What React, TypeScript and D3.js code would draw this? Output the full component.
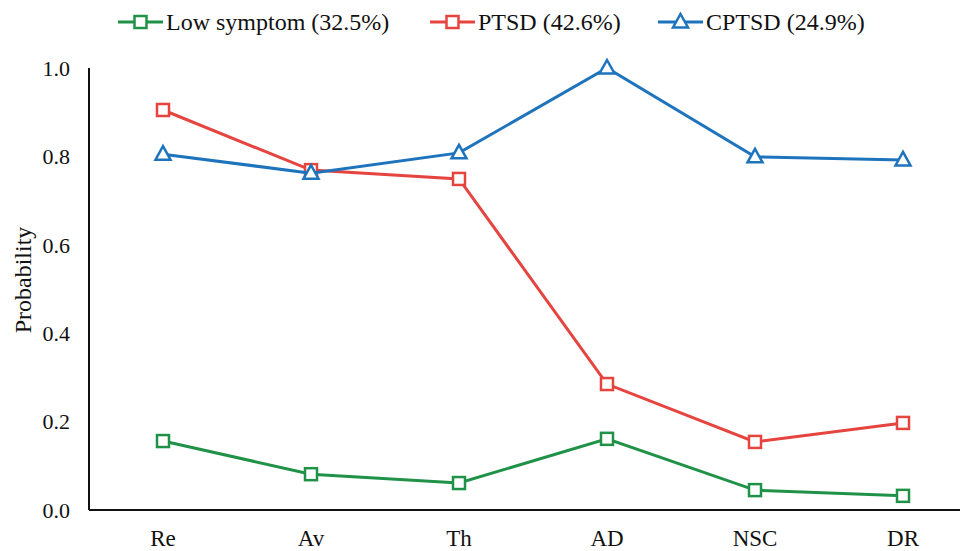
import { useEffect, useRef } from "react";
import * as d3 from "d3";

// Données
const categories = ["Re", "Av", "Th", "AD", "NSC", "DR"];
const lowSymptom = [0.156, 0.081, 0.061, 0.161, 0.045, 0.032];
const ptsd = [0.905, 0.769, 0.749, 0.285, 0.154, 0.197];
const cptsd = [0.805, 0.762, 0.808, 1.0, 0.799, 0.792];
const yTicks = [0, 0.2, 0.4, 0.6, 0.8, 1.0];

const seriesList = [
  { name: "Low symptom (32.5%)", values: lowSymptom, color: "#1f9248", marker: "square" },
  { name: "PTSD (42.6%)", values: ptsd, color: "#e5443f", marker: "square" },
  { name: "CPTSD (24.9%)", values: cptsd, color: "#1d74bd", marker: "triangle" },
];

const W = 960;
const H = 551;

export default function App() {
  const svgRef = useRef<SVGSVGElement>(null);

  useEffect(() => {
    if (!svgRef.current) return;
    const svg = d3.select(svgRef.current);
    svg.selectAll("*").remove();

    const font = "'Liberation Serif', 'Times New Roman', serif";
    const left = 89;
    const top = 68;
    const bottom = 510;

    const x = d3.scaleBand().domain(categories).range([left, left + 888]);
    const y = d3.scaleLinear().domain([0, 1]).range([bottom, top]);

    // Axes
    svg.append("line")
      .attr("x1", left).attr("x2", left)
      .attr("y1", top).attr("y2", bottom)
      .attr("stroke", "#111").attr("stroke-width", 2);
    svg.append("line")
      .attr("x1", left).attr("x2", W)
      .attr("y1", bottom).attr("y2", bottom)
      .attr("stroke", "#111").attr("stroke-width", 2);

    svg.selectAll(".ytick")
      .data(yTicks)
      .enter()
      .append("text")
      .attr("x", 70)
      .attr("y", (d) => y(d))
      .attr("dy", "0.35em")
      .attr("text-anchor", "end")
      .style("font-family", font)
      .style("font-size", "22px")
      .style("fill", "#111")
      .text((d) => d3.format(".1f")(d));

    svg.selectAll(".xtick")
      .data(categories)
      .enter()
      .append("text")
      .attr("x", (d) => (x(d) || 0) + x.bandwidth() / 2)
      .attr("y", 546)
      .attr("text-anchor", "middle")
      .style("font-family", font)
      .style("font-size", "23px")
      .style("fill", "#111")
      .text((d) => d);

    svg.append("text")
      .attr("transform", `translate(31,280) rotate(-90)`)
      .attr("text-anchor", "middle")
      .style("font-family", font)
      .style("font-size", "24px")
      .style("fill", "#111")
      .text("Probability");

    const cx = (i: number) => (x(categories[i]) || 0) + x.bandwidth() / 2;

    const drawMarker = (g: any, kind: string, px: number, py: number, color: string) => {
      if (kind === "square") {
        g.append("rect")
          .attr("x", px - 6).attr("y", py - 6)
          .attr("width", 12).attr("height", 12)
          .attr("fill", "white").attr("stroke", color).attr("stroke-width", 2.5);
      } else {
        g.append("path")
          .attr("d", `M${px},${py - 8} L${px + 7.5},${py + 5.5} L${px - 7.5},${py + 5.5} Z`)
          .attr("fill", "white").attr("stroke", color).attr("stroke-width", 2.5)
          .attr("stroke-linejoin", "miter");
      }
    };

    const line = d3.line<number>()
      .x((_, i) => cx(i))
      .y((d) => y(d));

    seriesList.forEach((s) => {
      const g = svg.append("g");
      g.append("path")
        .datum(s.values)
        .attr("d", line)
        .attr("fill", "none")
        .attr("stroke", s.color)
        .attr("stroke-width", 3);
      s.values.forEach((v, i) => drawMarker(g, s.marker, cx(i), y(v), s.color));
    });

    // Légende
    const legendX = [118, 430, 658];
    seriesList.forEach((s, i) => {
      const g = svg.append("g");
      const lx = legendX[i];
      const ly = 22;
      g.append("line")
        .attr("x1", lx).attr("x2", lx + 45)
        .attr("y1", ly).attr("y2", ly)
        .attr("stroke", s.color).attr("stroke-width", 3);
      drawMarker(g, s.marker, lx + 22.5, ly, s.color);
      g.append("text")
        .attr("x", lx + 48)
        .attr("y", ly)
        .attr("dy", "0.35em")
        .style("font-family", font)
        .style("font-size", "24px")
        .style("fill", "#111")
        .text(s.name);
    });
  }, []);

  return (
    <svg
      ref={svgRef}
      width={W}
      height={H}
      style={{ position: "absolute", left: 0, top: 0, background: "white" }}
    />
  );
}
